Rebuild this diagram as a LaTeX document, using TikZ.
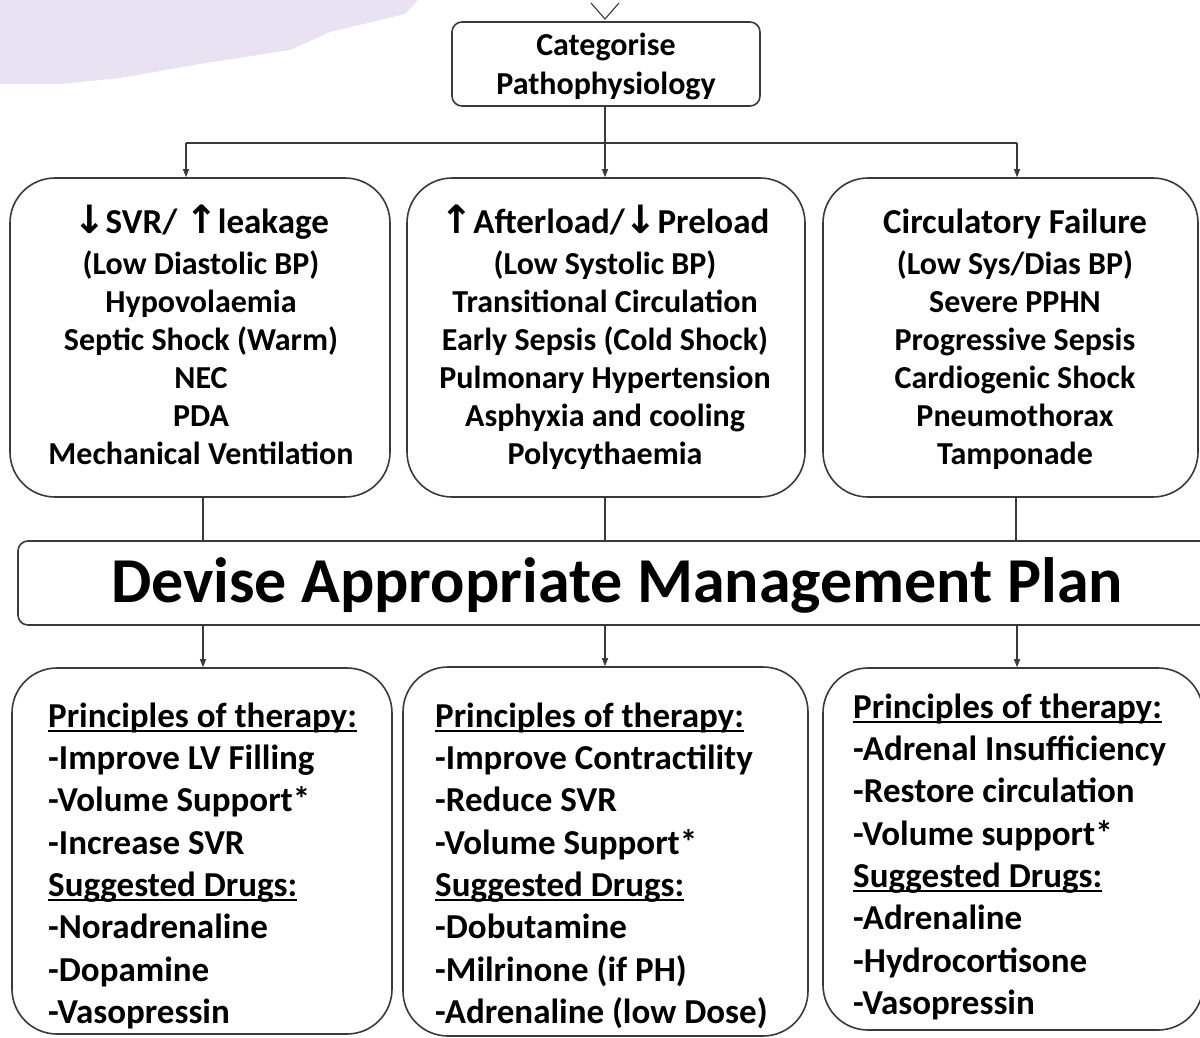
\documentclass[tikz,border=0pt]{standalone}
\usepackage{fontspec}
\setmainfont{Carlito}
\newfontfamily\arrowfont{DejaVu Sans}
\usetikzlibrary{arrows.meta}
\newcommand\ulbar[1]{\setbox0\hbox{#1}\rlap{\rule[-4.5pt]{\wd0}{2pt}}\box0}
\newcommand\dn{{\arrowfont\fontsize{39}{38}\selectfont\char"2193}}
\newcommand\up{{\arrowfont\fontsize{39}{38}\selectfont\char"2191}}
\newcommand\headfont{\bfseries\fontsize{35}{38}\selectfont}
% struts that fix the height of the first line and the depth of the last
\newcommand\topstrut[1]{\rule{0pt}{#1}}
\newcommand\botstrut{\rule[-8pt]{0pt}{8pt}}
\definecolor{edge}{HTML}{3A3A3A}
\definecolor{haze}{RGB}{232,226,242}
\tikzset{
  box/.style={draw=edge, line width=1.6pt, rounded corners=#1, inner sep=0pt},
  box/.default=45pt,
  link/.style={draw=edge, line width=1.1pt},
  feed/.style={link, -{Triangle[length=8pt,width=6pt]}},
  centred/.style={align=center, inner sep=0pt, font=\bfseries\fontsize{32}{38}\selectfont},
  listed/.style={align=left, inner sep=0pt, anchor=north west, font=\bfseries\fontsize{35}{42.3}\selectfont},
}
\begin{document}
\begin{tikzpicture}[x=1pt,y=-1pt]
\useasboundingbox (0,0) rectangle (1200,1037);
\clip (0,0) rectangle (1200,1037);
% faint wash in the top left corner
\fill[haze] (0,0) -- (418,0) -- (405,14) -- (330,32) -- (290,50) -- (200,64) -- (120,78) -- (60,84) -- (0,84) -- cycle;

% top of the chart
\node[box=10pt, minimum width=308pt, minimum height=84pt] (cat) at (606,64) {};
\node[centred, font=\bfseries\fontsize{32}{39}\selectfont] (catt) at (606,67)
  {\topstrut{24pt}Categorise\\Pathophysiology\botstrut};
\coordinate (vtip) at (605,19);
\draw[link] (591,3) -- (vtip) -- (619,3);

% branching to the three categories
\coordinate (split) at (605,143);
\coordinate (jl) at (186,143);
\coordinate (jr) at (1017,143);
\draw[link] (split |- cat.south) -- (split);
\draw[link] (jl) -- (jr);

\node[box, minimum width=380pt, minimum height=319pt] (b1) at (200,337.5) {};
\node[box, minimum width=398pt, minimum height=319pt] (b2) at (606,337.5) {};
\node[box, minimum width=375pt, minimum height=319pt] (b3) at (1010.5,337.5) {};

\draw[feed] (jl) -- (jl |- b1.north);
\draw[feed] (split) -- (split |- b2.north);
\draw[feed] (jr) -- (jr |- b3.north);

\node[centred] (t1) at (201,339) {{\headfont\topstrut{28pt}\dn SVR/ \up leakage}\\[3pt]
  (Low Diastolic BP)\\Hypovolaemia\\Septic Shock (Warm)\\NEC\\PDA\\Mechanical Ventilation\botstrut};
\node[centred] (t2) at (605,339) {{\headfont\topstrut{28pt}\up Afterload/\dn Preload}\\[3pt]
  (Low Systolic BP)\\Transitional Circulation\\Early Sepsis (Cold Shock)\\Pulmonary Hypertension\\Asphyxia and cooling\\Polycythaemia\botstrut};
\node[centred] (t3) at (1015,339) {{\headfont\topstrut{28pt}Circulatory Failure}\\[3pt]
  (Low Sys/Dias BP)\\Severe PPHN\\Progressive Sepsis\\Cardiogenic Shock\\Pneumothorax\\Tamponade\botstrut};

% management plan
\node[box=10pt, minimum width=1197pt, minimum height=84pt] (plan) at (616.5,583) {};
\node[inner sep=0pt, font=\bfseries\fontsize{64}{70}\selectfont] (plant) at (617,585) {Devise Appropriate Management Plan};

\draw[link] (b1.south -| 203,0) -- (plan.north -| 203,0);
\draw[link] (b2.south -| 605,0) -- (plan.north -| 605,0);
\draw[link] (b3.south -| 1016,0) -- (plan.north -| 1016,0);

% therapy boxes
\node[box, minimum width=380pt, minimum height=366pt] (c1) at (202,851) {};
\node[box, minimum width=405pt, minimum height=369pt] (c2) at (605.5,851.5) {};
\node[box, minimum width=380pt, minimum height=362pt] (c3) at (1013,849) {};

\draw[feed] (plan.south -| 203,0) -- (c1.north -| 203,0);
\draw[feed] (plan.south -| 605,0) -- (c2.north -| 605,0);
\draw[feed] (plan.south -| 1017,0) -- (c3.north -| 1017,0);

\node[listed] (p1) at (48,701) {\topstrut{26pt}\ulbar{Principles of therapy:}\\-Improve LV Filling\\-Volume Support*\\-Increase SVR\\
  \ulbar{Suggested Drugs:}\\-Noradrenaline\\-Dopamine\\-Vasopressin};
\node[listed] (p2) at (435,701) {\topstrut{26pt}\ulbar{Principles of therapy:}\\-Improve Contractility\\-Reduce SVR\\-Volume Support*\\
  \ulbar{Suggested Drugs:}\\-Dobutamine\\-Milrinone (if PH)\\-Adrenaline (low Dose)};
\node[listed] (p3) at (853,692) {\topstrut{26pt}\ulbar{Principles of therapy:}\\-Adrenal Insufficiency\\-Restore circulation\\-Volume support*\\
  \ulbar{Suggested Drugs:}\\-Adrenaline\\-Hydrocortisone\\-Vasopressin};
\end{tikzpicture}
\end{document}
